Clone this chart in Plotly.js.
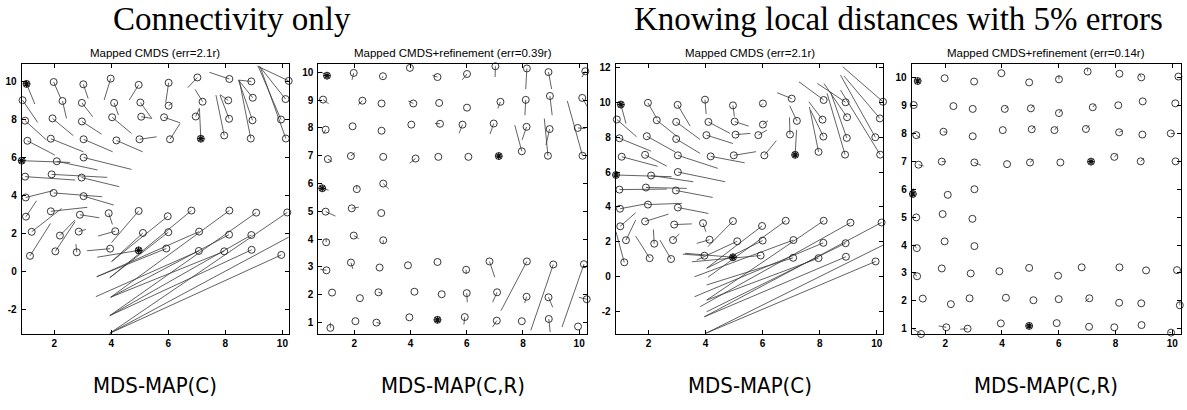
<!DOCTYPE html>
<html>
<head>
<meta charset="utf-8">
<script src="https://cdn.plot.ly/plotly-3.0.1.min.js"></script>
<style>html,body{margin:0;padding:0;background:#fff;}#chart{width:1187px;height:410px;}</style>
</head>
<body>
<div id="chart"></div>
<script>
// ---- true node positions (rows y~10,9,8,7 ; 6,5,4 left arm ; 3,2,1) ----
const trueX = [
  1.03,1.98,3.02,3.98,4.96,6.01,7.02,8.14,8.91,10.22,
  0.89,2.29,2.97,4.10,5.02,6.01,7.20,8.10,8.96,10.11,
  0.98,1.94,2.97,4.03,5.05,5.85,6.96,8.13,8.95,9.95,
  1.06,1.88,3.03,4.18,4.99,6.06,7.14,7.96,8.89,10.12,
  0.86,2.09,3.03,
  0.98,1.91,2.96,
  1.00,1.98,3.03,
  1.01,1.88,2.90,3.91,4.96,5.98,6.81,8.14,9.08,10.17,
  1.21,2.20,2.86,4.14,5.11,6.00,7.08,8.13,8.91,10.27,
  1.15,2.04,2.79,3.96,4.96,5.93,7.07,7.96,8.92,9.96
];
const trueY = [
  9.88,9.98,9.86,10.16,9.83,9.94,10.22,10.14,10.01,10.04,
  9.02,8.98,8.88,8.88,8.90,8.73,8.94,9.01,9.15,9.08,
  7.94,8.06,7.90,8.12,8.15,8.12,8.16,8.04,7.96,8.00,
  6.88,6.99,6.96,6.90,6.96,6.96,6.99,7.16,7.00,7.00,
  5.83,5.80,6.00,
  4.99,5.11,4.94,
  3.89,4.13,3.96,
  2.88,3.16,2.98,3.06,3.18,2.90,3.20,3.20,3.09,3.10,
  2.08,1.88,2.09,2.11,2.02,2.06,2.09,1.93,1.91,1.84,
  0.81,1.05,1.00,1.19,1.10,1.20,1.07,1.05,1.13,0.86
];
const anchorIdx = [0, 36, 40, 73];

// ---- Connectivity only, MDS-MAP(C): estimated positions ----
const connCX = [
  1.32,2.23,3.19,3.75,4.63,5.91,6.68,7.44,8.46,9.12,
  1.42,2.43,3.35,4.25,5.42,6.15,6.94,7.81,8.46,9.19,
  1.73,2.67,3.66,4.71,5.42,6.41,7.09,7.81,8.46,9.16,
  2.02,3.02,4.05,5.10,5.59,6.41,7.09,7.67,8.49,9.22,
  2.55,3.52,4.71,
  2.73,3.86,4.28,
  1.96,3.68,4.09,
  1.38,3.16,3.58,4.04,4.01,4.01,3.95,3.98,3.95,3.95,
  2.26,2.73,3.11,3.54,4.01,3.95,3.49,3.98,3.95,3.95,
  1.87,2.73,2.76,3.15,3.51,3.49,3.46,3.98,3.95,3.95
];
const connCY = [
  8.82,9.11,9.11,9.03,9.03,8.89,9.68,10.49,10.08,10.82,
  7.85,8.06,8.15,8.24,8.06,8.89,9.59,9.32,10.08,10.82,
  6.92,7.15,7.23,7.27,8.06,7.83,8.59,9.29,10.08,10.78,
  6.13,6.30,6.30,6.30,7.09,7.79,8.59,9.29,10.05,10.78,
  5.74,5.34,5.37,
  4.81,4.95,4.46,
  4.25,3.93,3.49,
  3.72,3.37,2.82,2.47,1.51,0.51,-0.34,-1.37,-2.34,-3.27,
  3.31,2.70,2.21,1.86,0.51,-0.34,-0.29,-1.37,-2.34,-3.27,
  2.52,2.61,1.43,1.08,0.74,-0.29,-1.34,-1.37,-2.34,-3.27
];

// ---- Connectivity only, MDS-MAP(C,R) ----
const connCRX = [
  0.83,1.92,3.00,3.98,4.78,5.84,7.01,8.10,9.02,10.10,
  1.09,2.14,2.97,3.92,5.02,6.01,7.11,8.07,9.04,10.33,
  0.91,1.94,2.97,4.03,4.87,5.73,6.83,7.97,8.82,10.22,
  1.21,2.02,3.03,3.97,4.99,6.06,7.14,7.71,8.76,9.58,
  1.09,2.09,3.23,
  1.33,2.16,2.96,
  1.00,2.16,3.03,
  0.79,1.95,2.90,3.91,4.96,5.98,7.00,7.22,8.28,9.39,
  1.21,2.20,3.00,4.14,5.11,6.02,6.92,8.06,9.06,9.99,
  1.15,2.04,2.95,3.96,4.96,5.90,6.92,7.96,8.97,9.96
];
const connCRY = [
  10.01,9.73,9.80,10.16,9.89,9.73,9.83,9.40,9.40,9.83,
  8.87,8.84,8.88,8.97,8.90,8.73,8.70,8.46,8.46,8.70,
  7.78,8.06,7.90,8.12,8.16,7.81,7.78,7.57,7.39,7.98,
  6.79,7.11,6.96,6.73,6.96,6.96,6.99,8.10,8.34,8.97,
  5.76,5.95,5.80,
  4.83,5.15,4.94,
  4.02,4.02,3.85,
  2.92,2.93,2.98,3.06,3.18,2.75,2.63,1.43,0.72,0.84,
  2.08,1.88,2.05,2.11,2.02,1.73,1.73,1.70,1.55,1.91,
  1.00,1.05,0.97,1.19,1.10,0.93,0.84,1.05,0.66,0.86
];

// ---- Local distances (5% error), MDS-MAP(C) ----
const distCX = [
  1.21,2.29,3.46,4.02,5.01,5.92,6.51,7.27,7.92,8.81,
  1.58,3.01,3.81,4.86,5.51,6.19,6.95,7.62,8.15,8.85,
  2.09,2.93,3.81,4.96,5.57,6.15,6.94,7.68,8.38,8.73,
  2.32,2.64,4.43,5.37,5.77,6.48,7.19,7.64,8.26,8.73,
  2.81,3.57,4.69,
  2.64,3.34,4.25,
  2.00,3.17,4.10,
  1.55,2.70,3.52,4.01,4.08,4.04,4.08,4.04,3.81,3.96,
  1.55,2.17,3.08,3.69,3.69,4.04,3.61,3.61,4.04,4.01,
  0.86,1.55,2.40,3.20,3.28,3.52,4.04,4.04,3.96,4.01
];
const distCY = [
  8.79,9.08,8.64,9.33,9.18,9.79,10.56,11.19,11.09,12.05,
  8.03,8.03,7.87,8.22,8.64,8.95,9.81,10.04,11.09,11.52,
  7.20,7.16,7.07,7.64,8.22,8.41,9.14,9.56,10.61,11.57,
  6.33,6.34,6.21,6.53,7.17,7.80,8.41,9.75,10.52,10.71,
  5.73,5.44,5.44,
  5.02,5.06,4.54,
  4.20,4.20,3.62,
  3.66,3.58,3.02,2.57,1.71,0.47,-0.05,-1.36,-1.74,-2.32,
  3.24,2.70,2.44,1.90,0.94,0.47,-0.02,-1.17,-2.03,-3.27,
  2.57,2.32,2.09,1.28,1.33,0.84,-0.49,-1.36,-2.32,-3.27
];

// ---- Local distances (5% error), MDS-MAP(C,R) ----
const distCRX = [
  1.03,1.98,3.02,3.98,4.96,6.01,7.02,8.14,8.84,10.22,
  0.89,2.29,2.97,4.21,5.11,6.10,7.28,8.10,8.96,10.11,
  1.12,2.06,2.97,4.03,5.17,5.97,7.08,8.26,8.95,10.10,
  1.24,2.03,3.26,4.18,5.11,6.06,7.14,8.08,9.00,10.12,
  0.88,2.09,3.03,
  0.98,1.91,2.96,
  0.88,1.98,3.03,
  0.88,1.88,2.90,3.91,4.96,5.98,6.81,8.14,9.08,10.17,
  1.21,2.20,2.86,4.14,5.11,6.00,6.93,8.13,8.91,10.27,
  0.88,1.77,2.53,3.96,4.96,5.93,7.07,7.96,8.92,9.87
];
const distCRY = [
  9.88,9.98,9.86,10.16,9.83,10.09,10.34,10.14,10.15,10.04,
  9.02,8.98,8.88,8.96,9.00,8.86,9.04,9.01,9.15,9.08,
  7.84,8.04,7.90,8.12,8.27,8.26,8.30,8.10,7.96,8.00,
  6.83,6.99,6.86,6.90,7.07,6.96,6.99,7.26,7.10,7.00,
  6.03,5.80,6.00,
  4.99,5.11,4.94,
  4.00,4.13,3.96,
  2.99,3.16,2.98,3.06,3.18,2.90,3.20,3.20,3.09,3.10,
  2.08,1.88,2.09,2.11,2.02,2.06,1.97,1.93,1.91,1.97,
  0.98,1.10,0.98,1.19,1.10,1.20,1.07,1.05,1.13,0.88
];

// ---- text ----
const panelTitles = ["Mapped CMDS (err=2.1r)","Mapped CMDS+refinement (err=0.39r)","Mapped CMDS (err=2.1r)","Mapped CMDS+refinement (err=0.14r)"];
const methodLabels = ["MDS-MAP(C)","MDS-MAP(C,R)","MDS-MAP(C)","MDS-MAP(C,R)"];
const groupTitles = ["Connectivity only","Knowing local distances with 5% errors"];
const xTicks = [2,4,6,8,10];
const yTicksWide = [-2,0,2,4,6,8,10];
const yTicksWide3 = [-2,0,2,4,6,8,10,12];
const yTicksNarrow = [1,2,3,4,5,6,7,8,9,10];

const estSets = [[connCX,connCY],[connCRX,connCRY],[distCX,distCY],[distCRX,distCRY]];
const xRanges = [[0.86,10.22],[0.72,10.29],[0.85,10.23],[0.82,10.30]];
const yRanges = [[-3.31,10.93],[0.59,10.30],[-3.31,12.21],[0.81,10.49]];
const yTickSets = [yTicksWide,yTicksNarrow,yTicksWide3,yTicksNarrow];
const xDomains = [[21.7,288.7],[318.3,587.3],[615.7,883.3],[911.7,1180.7]];
const W = 1187, H = 410;

const traces = [];
const layout = {
  width: W, height: H, margin:{l:0,r:0,t:0,b:0},
  paper_bgcolor:'#fff', plot_bgcolor:'#fff', showlegend:false, hovermode:false,
  annotations: [], font:{family:'Liberation Sans, Arial, sans-serif', color:'#000'}
};

for (let p=0;p<4;p++){
  const sfx = p===0 ? '' : String(p+1);
  const xa = 'x'+sfx, ya = 'y'+sfx;
  const [ex,ey] = estSets[p];
  const lx=[], ly=[];
  for (let i=0;i<trueX.length;i++){
    lx.push(trueX[i], ex[i], null);
    ly.push(trueY[i], ey[i], null);
  }
  traces.push({type:'scatter', mode:'lines', x:lx, y:ly, xaxis:xa, yaxis:ya,
    line:{color:'#3a3a3a', width:0.8}, cliponaxis:true});
  traces.push({type:'scatter', mode:'markers', x:trueX, y:trueY, xaxis:xa, yaxis:ya,
    marker:{symbol:'circle-open', size:7, color:'#222', line:{width:0.9, color:'#222'}}, cliponaxis:false});
  traces.push({type:'scatter', mode:'markers', x:anchorIdx.map(i=>trueX[i]), y:anchorIdx.map(i=>trueY[i]), xaxis:xa, yaxis:ya,
    marker:{symbol:'asterisk-open', size:6, color:'#111', line:{width:1.2, color:'#111'}}, cliponaxis:false});

  const axCommon = {showline:true, linecolor:'#000', linewidth:1, mirror:'ticks', ticks:'inside', ticklen:4,
    tickcolor:'#000', showgrid:false, zeroline:false,
    tickfont:{family:'Liberation Sans, Arial, sans-serif', size:10, color:'#000', weight:'bold'}};
  layout['xaxis'+sfx] = Object.assign({}, axCommon, {domain:[xDomains[p][0]/W, xDomains[p][1]/W], range:xRanges[p],
    anchor:ya, tickvals:xTicks, ticktext:xTicks.map(String)});
  layout['yaxis'+sfx] = Object.assign({}, axCommon, {domain:[1-334/H, 1-64/H], range:yRanges[p],
    anchor:xa, tickvals:yTickSets[p], ticktext:yTickSets[p].map(String), ticklabelstandoff:2});

  const cx = (xDomains[p][0]+xDomains[p][1])/2/W;
  layout.annotations.push({text:panelTitles[p], xref:'paper', yref:'paper', x:cx, y:1-53/H, xanchor:'center', yanchor:'middle',
    showarrow:false, font:{family:'Liberation Sans, Arial, sans-serif', size:11.5, color:'#000'}});
  layout.annotations.push({text:methodLabels[p], xref:'paper', yref:'paper', x:cx, y:1-385/H, xanchor:'center', yanchor:'middle',
    showarrow:false, font:{family:'DejaVu Sans Condensed, Liberation Sans, sans-serif', size:22, color:'#000'}});
}
const g1 = 232/W, g2 = (xDomains[2][0]+xDomains[3][1])/2/W;
layout.annotations.push({text:groupTitles[0], xref:'paper', yref:'paper', x:g1, y:1-19/H, xanchor:'center', yanchor:'middle',
  showarrow:false, font:{family:'Liberation Serif, Times New Roman, serif', size:33, color:'#000'}});
layout.annotations.push({text:groupTitles[1], xref:'paper', yref:'paper', x:g2, y:1-19/H, xanchor:'center', yanchor:'middle',
  showarrow:false, font:{family:'Liberation Serif, Times New Roman, serif', size:33, color:'#000'}});

Plotly.newPlot('chart', traces, layout, {staticPlot:true, displayModeBar:false});
</script>
</body>
</html>
